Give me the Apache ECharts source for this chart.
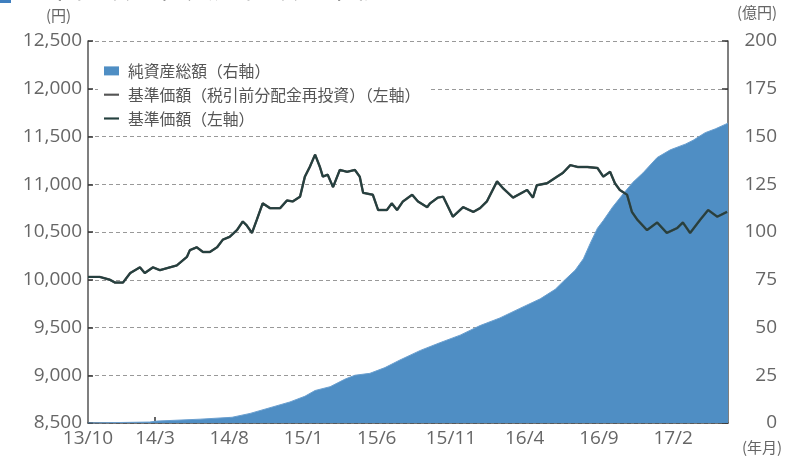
<!DOCTYPE html>
<html>
<head>
<meta charset="utf-8">
<script src="https://cdn.jsdelivr.net/npm/echarts@6/dist/echarts.min.js"></script>
<style>
html,body{margin:0;padding:0;background:#fff;}
#chart{width:798px;height:460px;}
</style>
</head>
<body>
<div id="chart"></div>
<script>
// 基準価額（円）
const navDates = [
'2013-10-14','2013-10-18','2013-11-07','2013-11-28','2013-12-09','2013-12-25','2014-01-09','2014-01-29','2014-02-08','2014-02-25',
'2014-03-11','2014-04-01','2014-04-15','2014-05-06','2014-05-12','2014-05-26','2014-06-08','2014-06-22','2014-07-07','2014-07-19',
'2014-08-02','2014-08-17','2014-08-29','2014-09-06','2014-09-17','2014-09-27','2014-10-09','2014-10-24','2014-11-14','2014-11-28',
'2014-12-10','2014-12-25','2015-01-04','2015-01-14','2015-01-25','2015-02-04','2015-02-10','2015-02-20','2015-03-03','2015-03-17',
'2015-04-01','2015-04-17','2015-04-27','2015-05-04','2015-05-24','2015-06-04','2015-06-22','2015-07-02','2015-07-13','2015-07-25',
'2015-08-13','2015-08-25','2015-09-13','2015-09-19','2015-10-05','2015-10-16','2015-11-05','2015-11-26','2015-12-17','2015-12-31',
'2016-01-14','2016-02-04','2016-02-16','2016-03-08','2016-04-06','2016-04-18','2016-04-26','2016-05-17','2016-06-07','2016-06-19',
'2016-07-04','2016-07-20','2016-08-08','2016-08-29','2016-09-10','2016-09-24','2016-10-04','2016-10-14','2016-10-29','2016-11-08',
'2016-11-19','2016-12-09','2016-12-30','2017-01-19','2017-02-09','2017-02-21','2017-03-08','2017-03-29','2017-04-14','2017-05-03',
'2017-05-23'
];
const navValues = [
10030,10040,10030,10000,9970,9970,10070,10130,10070,10130,
10100,10130,10150,10240,10310,10340,10290,10290,10340,10420,
10450,10520,10610,10570,10490,10630,10800,10750,10750,10830,
10820,10870,11080,11180,11310,11180,11080,11100,10970,11150,
11130,11150,11080,10910,10890,10730,10730,10800,10730,10820,
10890,10820,10760,10800,10860,10870,10660,10760,10710,10750,
10820,11030,10960,10860,10940,10860,10990,11010,11080,11120,
11200,11180,11180,11170,11080,11130,11010,10940,10890,10710,
10630,10520,10600,10490,10540,10600,10490,10630,10730,10660,
10710
];
// 純資産総額（億円）
const aumDates = [
'2013-10-14','2014-02-18','2014-03-05','2014-06-02','2014-08-07','2014-09-13','2014-10-24','2014-12-04','2015-01-04','2015-01-25',
'2015-02-25','2015-03-28','2015-04-17','2015-05-18','2015-06-18','2015-07-19','2015-08-30','2015-10-09','2015-11-20','2015-12-31',
'2016-02-10','2016-03-22','2016-05-03','2016-06-03','2016-06-23','2016-07-14','2016-07-31','2016-08-14','2016-08-29','2016-09-10',
'2016-09-29','2016-10-21','2016-11-10','2016-12-01','2016-12-30','2017-01-26','2017-02-26','2017-03-14','2017-04-08','2017-04-29',
'2017-05-25'
];
const aumValues = [
0,0.5,1,2,3,5,8,11,14,17,
19,23,25,26,29,33,38,42,46,51,
55,60,65,70,75,80,86,94,102,106,
113,120,126,131,139,143,146,148,152,154,
157
];
const labelDates = ['2013-10-14','2014-03-01','2014-08-01','2015-01-01','2015-06-01','2015-11-01','2016-04-01','2016-09-01','2017-02-01'];
const tickDates = ['2014-03-01','2014-08-01','2015-01-01','2015-06-01','2015-11-01','2016-04-01','2016-09-01','2017-02-01'];
const seriesNames = ['純資産総額（右軸）','基準価額（税引前分配金再投資）（左軸）','基準価額（左軸）'];

function ts(s){const p=s.split('-').map(Number);return new Date(p[0],p[1]-1,p[2]).getTime();}
function fmtComma(v){return String(v).replace(/\B(?=(\d{3})+(?!\d))/g, ',');}

const chart = echarts.init(document.getElementById('chart'));
const labelFont = {color:'#666', fontSize:19, fontFamily:'"Open Sans", "Noto Sans CJK JP", sans-serif'};
const lineIcon = 'path://M0,0 L14,0 L14,2 L0,2 Z';
chart.setOption({
  animation:false,
  backgroundColor:'#fff',
  grid:{left:88, right:70, top:41, bottom:37, containLabel:false},
  legend:{
    orient:'vertical', left:98, top:59, itemGap:8, itemWidth:15, itemHeight:9,
    backgroundColor:'#fff', padding:[4,10,4,6],
    textStyle:{color:'#555', fontSize:15.8, fontFamily:'"Noto Sans CJK JP", sans-serif', padding:[0,0,0,4]},
    data:[
      {name:seriesNames[0], icon:'rect', itemStyle:{color:'#4f8ec4'}},
      {name:seriesNames[1], icon:lineIcon, itemStyle:{color:'#555'}},
      {name:seriesNames[2], icon:lineIcon, itemStyle:{color:'#25403f'}}
    ]
  },
  graphic:[
    {type:'rect', left:0, top:-7, shape:{width:11, height:10}, style:{fill:'#3f7fbf'}},
    {type:'text', left:18, top:-27, style:{text:'基準価額と純資産総額の推移', fill:'#333', font:'28px "Noto Sans CJK JP"'}},
    {type:'text', left:46, top:8, style:{text:'(円)', fill:'#666', font:'15px "Noto Sans CJK JP"'}},
    {type:'text', left:737, top:5, style:{text:'(億円)', fill:'#666', font:'15px "Noto Sans CJK JP"'}},
    {type:'text', left:742, top:440, style:{text:'(年月)', fill:'#666', font:'15px "Noto Sans CJK JP"'}}
  ],
  xAxis:{
    type:'value', min:ts('2013-10-14'), max:ts('2017-05-25'),
    axisLine:{lineStyle:{color:'#444', width:1.5}},
    axisTick:{show:true, inside:true, length:6, lineStyle:{color:'#333', width:1.5}, customValues:tickDates.map(ts)},
    axisLabel:Object.assign({margin:6, customValues:labelDates.map(ts), hideOverlap:false,
      formatter:function(v){const d=new Date(v);return (d.getFullYear()%100)+'/'+(d.getMonth()+1);}}, labelFont),
    splitLine:{show:false}
  },
  yAxis:[
    {type:'value', min:8500, max:12500, interval:500, position:'left',
     axisLine:{show:true, lineStyle:{color:'#555', width:1.5}},
     axisTick:{show:true, inside:true, length:5, lineStyle:{color:'#333', width:1.5}},
     axisLabel:Object.assign({margin:6, formatter:fmtComma}, labelFont),
     splitLine:{show:true, lineStyle:{color:'#999', type:[4,3], width:1}}
    },
    {type:'value', min:0, max:200, interval:25, position:'right',
     axisLine:{show:true, lineStyle:{color:'#555', width:1.5}},
     axisTick:{show:true, inside:true, length:6, lineStyle:{color:'#333', width:1.5}},
     axisLabel:Object.assign({margin:49, align:'right'}, labelFont),
     splitLine:{show:false}
    }
  ],
  series:[
    {name:seriesNames[0], type:'line', yAxisIndex:1, symbol:'none', z:1,
     data:aumDates.map((d,i)=>[ts(d), aumValues[i]]),
     lineStyle:{width:1, color:'#6a9fcf'}, itemStyle:{color:'#4f8ec4'},
     areaStyle:{color:'#4f8ec4', opacity:1}},
    {name:seriesNames[1], type:'line', yAxisIndex:0, symbol:'none', z:3,
     data:navDates.map((d,i)=>[ts(d), navValues[i]]),
     lineStyle:{width:2.4, color:'#555'}, itemStyle:{color:'#555'}},
    {name:seriesNames[2], type:'line', yAxisIndex:0, symbol:'none', z:4,
     data:navDates.map((d,i)=>[ts(d), navValues[i]]),
     lineStyle:{width:2, color:'#25403f'}, itemStyle:{color:'#25403f'}}
  ]
});
</script>
</body>
</html>
